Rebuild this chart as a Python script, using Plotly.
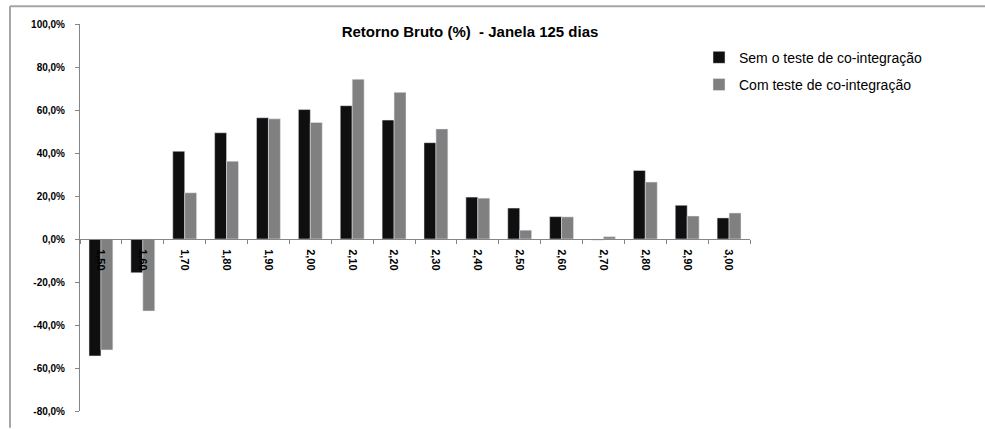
import plotly.graph_objects as go

# Limiares de entrada (categorias) e retorno bruto em %
limiares = ["1,50", "1,60", "1,70", "1,80", "1,90", "2,00", "2,10", "2,20",
            "2,30", "2,40", "2,50", "2,60", "2,70", "2,80", "2,90", "3,00"]
sem_teste = [-54.4, -15.7, 40.8, 49.4, 56.4, 60.2, 62.0, 55.3,
             44.8, 19.5, 14.4, 10.4, -0.5, 31.9, 15.7, 9.8]
com_teste = [-51.6, -33.5, 21.5, 36.2, 55.9, 54.2, 74.3, 68.2,
             51.2, 19.0, 4.1, 10.3, 1.1, 26.5, 10.7, 12.1]
y_ticks = [-80, -60, -40, -20, 0, 20, 40, 60, 80, 100]

W, H = 985, 429
M_L, M_R, M_T, M_B = 80, 235, 24, 12
Y_MIN, Y_MAX = -80, 100

# posição do eixo x sobre a linha do zero
zero_frac = (0 - Y_MIN) / (Y_MAX - Y_MIN)

def fmt_pct(v):
    return f"<b>{v:.1f}%</b>".replace(".", ",")

fig = go.Figure()
fig.add_trace(go.Bar(x=limiares, y=sem_teste, name="Sem o teste de co-integração",
                     legendgroup="sem", marker=dict(color="#0f0f0f")))
fig.add_trace(go.Bar(x=limiares, y=com_teste, name="Com teste de co-integração",
                     legendgroup="com", marker=dict(color="#808080")))

pw = W - M_L - M_R
ph = H - M_T - M_B

def px_x(x):
    return (x - M_L) / pw

def px_y(y):
    return 1 - (y - M_T) / ph

# moldura da área do gráfico
border = dict(color="#a6a6a6", width=2)
fig.add_shape(type="line", xref="paper", yref="paper",
              x0=px_x(10), x1=px_x(W + 5), y0=px_y(6), y1=px_y(6), line=border)
fig.add_shape(type="line", xref="paper", yref="paper",
              x0=px_x(10), x1=px_x(10), y0=px_y(6), y1=px_y(H + 5), line=border)

fig.update_layout(
    width=W, height=H,
    margin=dict(l=M_L, r=M_R, t=M_T, b=M_B),
    paper_bgcolor="white", plot_bgcolor="white",
    barmode="group", bargap=0.43, bargroupgap=0,
    font=dict(family="Liberation Sans", color="#000000"),
    title=dict(text="<b>Retorno Bruto (%)  - Janela 125 dias</b>",
               x=px_x(470), xanchor="center", xref="paper",
               y=1 - 32 / H, yanchor="middle",
               font=dict(size=15, family="Liberation Sans")),
    legend=dict(x=px_x(699), y=px_y(42), xanchor="left", yanchor="top",
                font=dict(size=14), bgcolor="rgba(0,0,0,0)",
                itemwidth=30, tracegroupgap=6),
    showlegend=True,
)

fig.update_xaxes(
    type="category", anchor="free", position=zero_frac,
    tickvals=limiares, ticktext=[f"<b>{c}</b>" for c in limiares],
    showline=True, linecolor="#868686", linewidth=1,
    ticks="outside", ticklen=4, tickcolor="#868686", tickson="boundaries",
    tickangle=90, ticklabelstandoff=7,
    tickfont=dict(size=11, family="Liberation Sans", color="#000"),
    showgrid=False, zeroline=False,
)
fig.update_yaxes(
    range=[Y_MIN, Y_MAX], tickvals=y_ticks, ticktext=[fmt_pct(v) for v in y_ticks],
    showline=True, linecolor="#868686", linewidth=1,
    ticks="outside", ticklen=4, tickcolor="#868686", ticklabelstandoff=8,
    tickfont=dict(size=10, family="Liberation Sans", color="#000"),
    showgrid=False, zeroline=False,
)

fig.write_html("out.html")
